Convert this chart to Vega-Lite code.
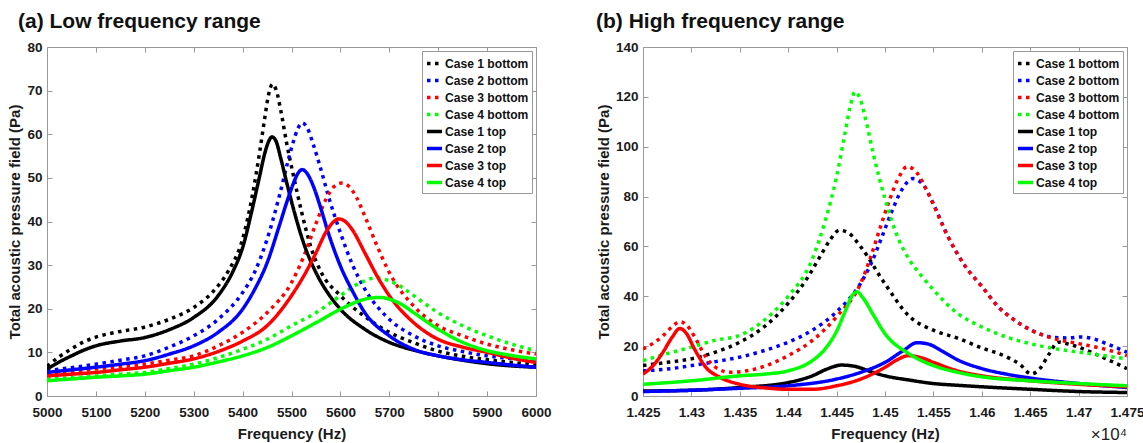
{
"$schema": "https://vega.github.io/schema/vega-lite/v6.json",
"padding": {"left": 7, "top": 11, "right": 3, "bottom": 1},
"spacing": 44,
"resolve": {"scale": {"color": "independent", "strokeDash": "independent"}, "legend": {"color": "independent", "strokeDash": "independent"}},
"config": {
  "font": "Liberation Sans",
  "view": {"stroke": null},
  "axis": {"grid": false, "domainColor": "#999", "tickColor": "#999", "tickSize": -5, "labelFontSize": 13.5, "labelFontWeight": "bold", "labelColor": "#1a1a1a", "titleFontSize": 15, "titleFontWeight": "bold", "titleColor": "#1a1a1a", "labelFlush": false, "labelOverlap": false},
  "axisX": {"labelPadding": 14, "titlePadding": 8},
  "axisY": {"labelPadding": 10, "titlePadding": 4},
  "title": {"fontSize": 21, "fontWeight": "bold", "color": "#111", "anchor": "start", "offset": 8},
  "legend": {"orient": "top-right", "offset": 4, "fillColor": "#ffffff", "strokeColor": "#999", "padding": 3, "labelFontSize": 12.1, "labelFontWeight": "bold", "labelColor": "#111", "symbolType": "stroke", "symbolSize": 225, "symbolStrokeWidth": 3.5, "rowPadding": 0, "labelOffset": 1}
},
"datasets": {
 "low": [
{"s":"Case 1 bottom","f":5000,"v":6.8},{"s":"Case 1 bottom","f":5025,"v":9},{"s":"Case 1 bottom","f":5050,"v":10.8},{"s":"Case 1 bottom","f":5075,"v":12.4},{"s":"Case 1 bottom","f":5100,"v":13.5},{"s":"Case 1 bottom","f":5150,"v":14.8},{"s":"Case 1 bottom","f":5200,"v":15.8},{"s":"Case 1 bottom","f":5250,"v":17.6},{"s":"Case 1 bottom","f":5300,"v":20.3},{"s":"Case 1 bottom","f":5340,"v":24},{"s":"Case 1 bottom","f":5370,"v":28.5},{"s":"Case 1 bottom","f":5400,"v":36},{"s":"Case 1 bottom","f":5420,"v":46},{"s":"Case 1 bottom","f":5435,"v":56},{"s":"Case 1 bottom","f":5445,"v":63.5},{"s":"Case 1 bottom","f":5453,"v":69},{"s":"Case 1 bottom","f":5461,"v":71.5},{"s":"Case 1 bottom","f":5469,"v":70},{"s":"Case 1 bottom","f":5478,"v":65.5},{"s":"Case 1 bottom","f":5490,"v":58},{"s":"Case 1 bottom","f":5505,"v":50},{"s":"Case 1 bottom","f":5520,"v":42.5},{"s":"Case 1 bottom","f":5540,"v":34},{"s":"Case 1 bottom","f":5560,"v":28.5},{"s":"Case 1 bottom","f":5600,"v":23},{"s":"Case 1 bottom","f":5650,"v":18.2},{"s":"Case 1 bottom","f":5700,"v":14.6},{"s":"Case 1 bottom","f":5750,"v":12.2},{"s":"Case 1 bottom","f":5800,"v":10.3},{"s":"Case 1 bottom","f":5850,"v":9.1},{"s":"Case 1 bottom","f":5900,"v":8.3},{"s":"Case 1 bottom","f":5950,"v":7.7},{"s":"Case 1 bottom","f":6000,"v":7.2},
{"s":"Case 2 bottom","f":5000,"v":5.8},{"s":"Case 2 bottom","f":5050,"v":6.5},{"s":"Case 2 bottom","f":5100,"v":7.3},{"s":"Case 2 bottom","f":5150,"v":8.2},{"s":"Case 2 bottom","f":5200,"v":9.2},{"s":"Case 2 bottom","f":5250,"v":11.2},{"s":"Case 2 bottom","f":5300,"v":13.8},{"s":"Case 2 bottom","f":5350,"v":17.6},{"s":"Case 2 bottom","f":5400,"v":23.7},{"s":"Case 2 bottom","f":5425,"v":28.5},{"s":"Case 2 bottom","f":5450,"v":35.9},{"s":"Case 2 bottom","f":5475,"v":45.8},{"s":"Case 2 bottom","f":5492,"v":53.5},{"s":"Case 2 bottom","f":5503,"v":58},{"s":"Case 2 bottom","f":5513,"v":61.3},{"s":"Case 2 bottom","f":5522,"v":62.6},{"s":"Case 2 bottom","f":5532,"v":61.5},{"s":"Case 2 bottom","f":5545,"v":57.5},{"s":"Case 2 bottom","f":5560,"v":52},{"s":"Case 2 bottom","f":5575,"v":46},{"s":"Case 2 bottom","f":5600,"v":37.4},{"s":"Case 2 bottom","f":5625,"v":30},{"s":"Case 2 bottom","f":5650,"v":24.5},{"s":"Case 2 bottom","f":5700,"v":17.6},{"s":"Case 2 bottom","f":5750,"v":13.8},{"s":"Case 2 bottom","f":5800,"v":11.5},{"s":"Case 2 bottom","f":5850,"v":10.2},{"s":"Case 2 bottom","f":5900,"v":9.2},{"s":"Case 2 bottom","f":5950,"v":8.6},{"s":"Case 2 bottom","f":6000,"v":8.1},
{"s":"Case 3 bottom","f":5000,"v":5},{"s":"Case 3 bottom","f":5050,"v":5.6},{"s":"Case 3 bottom","f":5100,"v":6.2},{"s":"Case 3 bottom","f":5150,"v":6.7},{"s":"Case 3 bottom","f":5200,"v":7.3},{"s":"Case 3 bottom","f":5250,"v":8.2},{"s":"Case 3 bottom","f":5300,"v":9.2},{"s":"Case 3 bottom","f":5350,"v":11.5},{"s":"Case 3 bottom","f":5400,"v":14.6},{"s":"Case 3 bottom","f":5450,"v":19.1},{"s":"Case 3 bottom","f":5500,"v":26},{"s":"Case 3 bottom","f":5525,"v":32},{"s":"Case 3 bottom","f":5550,"v":39.5},{"s":"Case 3 bottom","f":5570,"v":45},{"s":"Case 3 bottom","f":5587,"v":48},{"s":"Case 3 bottom","f":5603,"v":48.8},{"s":"Case 3 bottom","f":5618,"v":48},{"s":"Case 3 bottom","f":5633,"v":45.5},{"s":"Case 3 bottom","f":5650,"v":41.2},{"s":"Case 3 bottom","f":5675,"v":34.4},{"s":"Case 3 bottom","f":5700,"v":28.3},{"s":"Case 3 bottom","f":5750,"v":20.6},{"s":"Case 3 bottom","f":5800,"v":16.1},{"s":"Case 3 bottom","f":5850,"v":13.8},{"s":"Case 3 bottom","f":5900,"v":11.9},{"s":"Case 3 bottom","f":5950,"v":10.6},{"s":"Case 3 bottom","f":6000,"v":9.6},
{"s":"Case 4 bottom","f":5000,"v":3.9},{"s":"Case 4 bottom","f":5050,"v":4.2},{"s":"Case 4 bottom","f":5100,"v":4.6},{"s":"Case 4 bottom","f":5150,"v":5},{"s":"Case 4 bottom","f":5200,"v":5.4},{"s":"Case 4 bottom","f":5250,"v":6.3},{"s":"Case 4 bottom","f":5300,"v":7.3},{"s":"Case 4 bottom","f":5350,"v":8.8},{"s":"Case 4 bottom","f":5400,"v":10.7},{"s":"Case 4 bottom","f":5450,"v":13},{"s":"Case 4 bottom","f":5500,"v":16.1},{"s":"Case 4 bottom","f":5550,"v":19.1},{"s":"Case 4 bottom","f":5600,"v":23},{"s":"Case 4 bottom","f":5625,"v":25},{"s":"Case 4 bottom","f":5650,"v":26.4},{"s":"Case 4 bottom","f":5672,"v":27.1},{"s":"Case 4 bottom","f":5700,"v":26.4},{"s":"Case 4 bottom","f":5725,"v":25},{"s":"Case 4 bottom","f":5750,"v":23},{"s":"Case 4 bottom","f":5800,"v":19.1},{"s":"Case 4 bottom","f":5850,"v":16.1},{"s":"Case 4 bottom","f":5900,"v":13.8},{"s":"Case 4 bottom","f":5950,"v":11.9},{"s":"Case 4 bottom","f":6000,"v":10.4},
{"s":"Case 1 top","f":5000,"v":6.2},{"s":"Case 1 top","f":5025,"v":7.8},{"s":"Case 1 top","f":5050,"v":9.2},{"s":"Case 1 top","f":5075,"v":10.5},{"s":"Case 1 top","f":5100,"v":11.5},{"s":"Case 1 top","f":5150,"v":12.6},{"s":"Case 1 top","f":5200,"v":13.4},{"s":"Case 1 top","f":5250,"v":15.2},{"s":"Case 1 top","f":5300,"v":18},{"s":"Case 1 top","f":5350,"v":23},{"s":"Case 1 top","f":5380,"v":28.5},{"s":"Case 1 top","f":5400,"v":34},{"s":"Case 1 top","f":5420,"v":43},{"s":"Case 1 top","f":5435,"v":50.5},{"s":"Case 1 top","f":5445,"v":55.5},{"s":"Case 1 top","f":5453,"v":58.3},{"s":"Case 1 top","f":5460,"v":59.4},{"s":"Case 1 top","f":5468,"v":58.5},{"s":"Case 1 top","f":5478,"v":54.5},{"s":"Case 1 top","f":5490,"v":49},{"s":"Case 1 top","f":5505,"v":42.5},{"s":"Case 1 top","f":5525,"v":35},{"s":"Case 1 top","f":5550,"v":28.3},{"s":"Case 1 top","f":5575,"v":23.5},{"s":"Case 1 top","f":5600,"v":19.9},{"s":"Case 1 top","f":5650,"v":15.3},{"s":"Case 1 top","f":5700,"v":12.3},{"s":"Case 1 top","f":5750,"v":10.5},{"s":"Case 1 top","f":5800,"v":9.2},{"s":"Case 1 top","f":5850,"v":8.2},{"s":"Case 1 top","f":5900,"v":7.4},{"s":"Case 1 top","f":5950,"v":6.9},{"s":"Case 1 top","f":6000,"v":6.6},
{"s":"Case 2 top","f":5000,"v":5.4},{"s":"Case 2 top","f":5050,"v":6},{"s":"Case 2 top","f":5100,"v":6.6},{"s":"Case 2 top","f":5150,"v":7.3},{"s":"Case 2 top","f":5200,"v":8.1},{"s":"Case 2 top","f":5250,"v":9.6},{"s":"Case 2 top","f":5300,"v":11.5},{"s":"Case 2 top","f":5350,"v":14.6},{"s":"Case 2 top","f":5400,"v":19.9},{"s":"Case 2 top","f":5425,"v":24.5},{"s":"Case 2 top","f":5450,"v":30.5},{"s":"Case 2 top","f":5475,"v":39},{"s":"Case 2 top","f":5492,"v":45},{"s":"Case 2 top","f":5503,"v":48.5},{"s":"Case 2 top","f":5513,"v":51},{"s":"Case 2 top","f":5522,"v":51.9},{"s":"Case 2 top","f":5532,"v":51},{"s":"Case 2 top","f":5545,"v":48},{"s":"Case 2 top","f":5560,"v":43},{"s":"Case 2 top","f":5575,"v":37.5},{"s":"Case 2 top","f":5600,"v":29.8},{"s":"Case 2 top","f":5625,"v":24},{"s":"Case 2 top","f":5650,"v":19.1},{"s":"Case 2 top","f":5700,"v":13.8},{"s":"Case 2 top","f":5750,"v":10.7},{"s":"Case 2 top","f":5800,"v":9.2},{"s":"Case 2 top","f":5850,"v":8.3},{"s":"Case 2 top","f":5900,"v":7.7},{"s":"Case 2 top","f":5950,"v":7.1},{"s":"Case 2 top","f":6000,"v":6.6},
{"s":"Case 3 top","f":5000,"v":4.6},{"s":"Case 3 top","f":5050,"v":5},{"s":"Case 3 top","f":5100,"v":5.4},{"s":"Case 3 top","f":5150,"v":6},{"s":"Case 3 top","f":5200,"v":6.6},{"s":"Case 3 top","f":5250,"v":7.5},{"s":"Case 3 top","f":5300,"v":8.5},{"s":"Case 3 top","f":5350,"v":10.2},{"s":"Case 3 top","f":5400,"v":12.6},{"s":"Case 3 top","f":5450,"v":16.1},{"s":"Case 3 top","f":5500,"v":23},{"s":"Case 3 top","f":5525,"v":27.5},{"s":"Case 3 top","f":5550,"v":32.8},{"s":"Case 3 top","f":5570,"v":37.5},{"s":"Case 3 top","f":5585,"v":39.8},{"s":"Case 3 top","f":5597,"v":40.6},{"s":"Case 3 top","f":5610,"v":40},{"s":"Case 3 top","f":5625,"v":38},{"s":"Case 3 top","f":5650,"v":32.8},{"s":"Case 3 top","f":5675,"v":27.5},{"s":"Case 3 top","f":5700,"v":23},{"s":"Case 3 top","f":5750,"v":16.8},{"s":"Case 3 top","f":5800,"v":13},{"s":"Case 3 top","f":5850,"v":11.2},{"s":"Case 3 top","f":5900,"v":10},{"s":"Case 3 top","f":5950,"v":8.7},{"s":"Case 3 top","f":6000,"v":7.7},
{"s":"Case 4 top","f":5000,"v":3.5},{"s":"Case 4 top","f":5050,"v":3.9},{"s":"Case 4 top","f":5100,"v":4.3},{"s":"Case 4 top","f":5150,"v":4.6},{"s":"Case 4 top","f":5200,"v":5},{"s":"Case 4 top","f":5250,"v":5.8},{"s":"Case 4 top","f":5300,"v":6.6},{"s":"Case 4 top","f":5350,"v":7.8},{"s":"Case 4 top","f":5400,"v":9.2},{"s":"Case 4 top","f":5450,"v":11.1},{"s":"Case 4 top","f":5500,"v":13.8},{"s":"Case 4 top","f":5550,"v":16.8},{"s":"Case 4 top","f":5600,"v":19.9},{"s":"Case 4 top","f":5625,"v":21.2},{"s":"Case 4 top","f":5650,"v":22.2},{"s":"Case 4 top","f":5680,"v":22.6},{"s":"Case 4 top","f":5700,"v":22.2},{"s":"Case 4 top","f":5725,"v":21},{"s":"Case 4 top","f":5750,"v":19.1},{"s":"Case 4 top","f":5800,"v":15.3},{"s":"Case 4 top","f":5850,"v":12.3},{"s":"Case 4 top","f":5900,"v":10.4},{"s":"Case 4 top","f":5950,"v":9.3},{"s":"Case 4 top","f":6000,"v":8.5}
 ],
 "high": [
{"s":"Case 1 bottom","f":14250,"v":12.2},{"s":"Case 1 bottom","f":14275,"v":13.5},{"s":"Case 1 bottom","f":14300,"v":14.9},{"s":"Case 1 bottom","f":14325,"v":17.6},{"s":"Case 1 bottom","f":14350,"v":21.6},{"s":"Case 1 bottom","f":14375,"v":27.7},{"s":"Case 1 bottom","f":14400,"v":37.2},{"s":"Case 1 bottom","f":14420,"v":47.5},{"s":"Case 1 bottom","f":14433,"v":56},{"s":"Case 1 bottom","f":14443,"v":62.5},{"s":"Case 1 bottom","f":14453,"v":66.5},{"s":"Case 1 bottom","f":14462,"v":65.5},{"s":"Case 1 bottom","f":14475,"v":59.8},{"s":"Case 1 bottom","f":14500,"v":45},{"s":"Case 1 bottom","f":14525,"v":32},{"s":"Case 1 bottom","f":14550,"v":26.4},{"s":"Case 1 bottom","f":14575,"v":23.2},{"s":"Case 1 bottom","f":14600,"v":19.3},{"s":"Case 1 bottom","f":14625,"v":15.8},{"s":"Case 1 bottom","f":14640,"v":12.5},{"s":"Case 1 bottom","f":14651,"v":8.8},{"s":"Case 1 bottom","f":14660,"v":11},{"s":"Case 1 bottom","f":14669,"v":16.5},{"s":"Case 1 bottom","f":14679,"v":21.6},{"s":"Case 1 bottom","f":14690,"v":20.8},{"s":"Case 1 bottom","f":14700,"v":19.6},{"s":"Case 1 bottom","f":14725,"v":15.5},{"s":"Case 1 bottom","f":14750,"v":11},
{"s":"Case 2 bottom","f":14250,"v":10.1},{"s":"Case 2 bottom","f":14275,"v":10.8},{"s":"Case 2 bottom","f":14300,"v":12.2},{"s":"Case 2 bottom","f":14325,"v":13.8},{"s":"Case 2 bottom","f":14350,"v":15.6},{"s":"Case 2 bottom","f":14376,"v":18.3},{"s":"Case 2 bottom","f":14400,"v":21.6},{"s":"Case 2 bottom","f":14425,"v":26.4},{"s":"Case 2 bottom","f":14450,"v":33.8},{"s":"Case 2 bottom","f":14475,"v":45.3},{"s":"Case 2 bottom","f":14486,"v":53.4},{"s":"Case 2 bottom","f":14497,"v":64},{"s":"Case 2 bottom","f":14507,"v":74},{"s":"Case 2 bottom","f":14517,"v":82.5},{"s":"Case 2 bottom","f":14529,"v":87.2},{"s":"Case 2 bottom","f":14540,"v":84.5},{"s":"Case 2 bottom","f":14550,"v":77},{"s":"Case 2 bottom","f":14565,"v":64},{"s":"Case 2 bottom","f":14583,"v":52},{"s":"Case 2 bottom","f":14600,"v":44},{"s":"Case 2 bottom","f":14617,"v":35.8},{"s":"Case 2 bottom","f":14634,"v":30.4},{"s":"Case 2 bottom","f":14651,"v":26.4},{"s":"Case 2 bottom","f":14675,"v":23.5},{"s":"Case 2 bottom","f":14690,"v":23.3},{"s":"Case 2 bottom","f":14702,"v":23.7},{"s":"Case 2 bottom","f":14714,"v":23.1},{"s":"Case 2 bottom","f":14730,"v":20.8},{"s":"Case 2 bottom","f":14750,"v":17.6},
{"s":"Case 3 bottom","f":14250,"v":18.9},{"s":"Case 3 bottom","f":14260,"v":21},{"s":"Case 3 bottom","f":14270,"v":23.9},{"s":"Case 3 bottom","f":14280,"v":27.8},{"s":"Case 3 bottom","f":14288,"v":29.8},{"s":"Case 3 bottom","f":14295,"v":28.5},{"s":"Case 3 bottom","f":14303,"v":24},{"s":"Case 3 bottom","f":14315,"v":15.6},{"s":"Case 3 bottom","f":14325,"v":11.5},{"s":"Case 3 bottom","f":14340,"v":9.5},{"s":"Case 3 bottom","f":14360,"v":10.3},{"s":"Case 3 bottom","f":14376,"v":12},{"s":"Case 3 bottom","f":14400,"v":16.2},{"s":"Case 3 bottom","f":14425,"v":22.3},{"s":"Case 3 bottom","f":14450,"v":31.8},{"s":"Case 3 bottom","f":14475,"v":45.3},{"s":"Case 3 bottom","f":14485,"v":55.5},{"s":"Case 3 bottom","f":14495,"v":67.5},{"s":"Case 3 bottom","f":14505,"v":79},{"s":"Case 3 bottom","f":14514,"v":87.5},{"s":"Case 3 bottom","f":14523,"v":92},{"s":"Case 3 bottom","f":14533,"v":89.5},{"s":"Case 3 bottom","f":14545,"v":81},{"s":"Case 3 bottom","f":14565,"v":64},{"s":"Case 3 bottom","f":14583,"v":52},{"s":"Case 3 bottom","f":14600,"v":44},{"s":"Case 3 bottom","f":14617,"v":35.8},{"s":"Case 3 bottom","f":14634,"v":30.4},{"s":"Case 3 bottom","f":14651,"v":26.4},{"s":"Case 3 bottom","f":14675,"v":23},{"s":"Case 3 bottom","f":14700,"v":21},{"s":"Case 3 bottom","f":14725,"v":19},{"s":"Case 3 bottom","f":14750,"v":16.2},
{"s":"Case 4 bottom","f":14250,"v":14.2},{"s":"Case 4 bottom","f":14275,"v":17},{"s":"Case 4 bottom","f":14300,"v":19.6},{"s":"Case 4 bottom","f":14324,"v":22.3},{"s":"Case 4 bottom","f":14350,"v":24.3},{"s":"Case 4 bottom","f":14366,"v":27.7},{"s":"Case 4 bottom","f":14383,"v":33},{"s":"Case 4 bottom","f":14400,"v":40},{"s":"Case 4 bottom","f":14425,"v":55},{"s":"Case 4 bottom","f":14438,"v":70},{"s":"Case 4 bottom","f":14450,"v":88},{"s":"Case 4 bottom","f":14458,"v":104},{"s":"Case 4 bottom","f":14464,"v":116},{"s":"Case 4 bottom","f":14469,"v":122},{"s":"Case 4 bottom","f":14474,"v":119.5},{"s":"Case 4 bottom","f":14480,"v":111},{"s":"Case 4 bottom","f":14488,"v":97},{"s":"Case 4 bottom","f":14500,"v":79.1},{"s":"Case 4 bottom","f":14514,"v":62.9},{"s":"Case 4 bottom","f":14525,"v":54.8},{"s":"Case 4 bottom","f":14538,"v":48},{"s":"Case 4 bottom","f":14550,"v":42.6},{"s":"Case 4 bottom","f":14575,"v":33.1},{"s":"Case 4 bottom","f":14600,"v":27.7},{"s":"Case 4 bottom","f":14625,"v":23.7},{"s":"Case 4 bottom","f":14650,"v":21},{"s":"Case 4 bottom","f":14675,"v":19},{"s":"Case 4 bottom","f":14700,"v":17.6},{"s":"Case 4 bottom","f":14750,"v":14.9},
{"s":"Case 1 top","f":14250,"v":2},{"s":"Case 1 top","f":14300,"v":2.3},{"s":"Case 1 top","f":14350,"v":3.4},{"s":"Case 1 top","f":14400,"v":5.4},{"s":"Case 1 top","f":14425,"v":8.1},{"s":"Case 1 top","f":14440,"v":10.8},{"s":"Case 1 top","f":14455,"v":12.4},{"s":"Case 1 top","f":14470,"v":11.8},{"s":"Case 1 top","f":14485,"v":9.8},{"s":"Case 1 top","f":14500,"v":8.1},{"s":"Case 1 top","f":14525,"v":6.4},{"s":"Case 1 top","f":14550,"v":5},{"s":"Case 1 top","f":14575,"v":4.3},{"s":"Case 1 top","f":14600,"v":3.7},{"s":"Case 1 top","f":14650,"v":2.7},{"s":"Case 1 top","f":14700,"v":1.8},{"s":"Case 1 top","f":14750,"v":1.4},
{"s":"Case 2 top","f":14250,"v":1.8},{"s":"Case 2 top","f":14300,"v":2.3},{"s":"Case 2 top","f":14350,"v":3.1},{"s":"Case 2 top","f":14400,"v":4.1},{"s":"Case 2 top","f":14450,"v":6.8},{"s":"Case 2 top","f":14475,"v":9.5},{"s":"Case 2 top","f":14500,"v":13.5},{"s":"Case 2 top","f":14520,"v":18.5},{"s":"Case 2 top","f":14533,"v":21.4},{"s":"Case 2 top","f":14545,"v":20.8},{"s":"Case 2 top","f":14560,"v":17.8},{"s":"Case 2 top","f":14575,"v":14.5},{"s":"Case 2 top","f":14600,"v":11},{"s":"Case 2 top","f":14625,"v":8.8},{"s":"Case 2 top","f":14650,"v":7.2},{"s":"Case 2 top","f":14700,"v":5},{"s":"Case 2 top","f":14750,"v":3.4},
{"s":"Case 3 top","f":14250,"v":8.8},{"s":"Case 3 top","f":14260,"v":12},{"s":"Case 3 top","f":14270,"v":17.2},{"s":"Case 3 top","f":14280,"v":23.5},{"s":"Case 3 top","f":14288,"v":27.1},{"s":"Case 3 top","f":14295,"v":25},{"s":"Case 3 top","f":14303,"v":19},{"s":"Case 3 top","f":14315,"v":11.5},{"s":"Case 3 top","f":14330,"v":7.4},{"s":"Case 3 top","f":14350,"v":4.7},{"s":"Case 3 top","f":14375,"v":3.3},{"s":"Case 3 top","f":14400,"v":2.7},{"s":"Case 3 top","f":14425,"v":2.7},{"s":"Case 3 top","f":14450,"v":4.1},{"s":"Case 3 top","f":14475,"v":6.8},{"s":"Case 3 top","f":14500,"v":11.5},{"s":"Case 3 top","f":14513,"v":14.6},{"s":"Case 3 top","f":14524,"v":16.2},{"s":"Case 3 top","f":14538,"v":15.3},{"s":"Case 3 top","f":14550,"v":13.5},{"s":"Case 3 top","f":14575,"v":10.1},{"s":"Case 3 top","f":14600,"v":8.1},{"s":"Case 3 top","f":14650,"v":6.1},{"s":"Case 3 top","f":14700,"v":4.7},{"s":"Case 3 top","f":14750,"v":3.7},
{"s":"Case 4 top","f":14250,"v":4.7},{"s":"Case 4 top","f":14300,"v":6.1},{"s":"Case 4 top","f":14350,"v":8.1},{"s":"Case 4 top","f":14376,"v":8.8},{"s":"Case 4 top","f":14400,"v":10.1},{"s":"Case 4 top","f":14425,"v":14.2},{"s":"Case 4 top","f":14438,"v":18.8},{"s":"Case 4 top","f":14450,"v":26},{"s":"Case 4 top","f":14460,"v":35},{"s":"Case 4 top","f":14466,"v":40.2},{"s":"Case 4 top","f":14471,"v":41.8},{"s":"Case 4 top","f":14477,"v":39.5},{"s":"Case 4 top","f":14488,"v":32.5},{"s":"Case 4 top","f":14500,"v":25},{"s":"Case 4 top","f":14525,"v":16.9},{"s":"Case 4 top","f":14550,"v":12.2},{"s":"Case 4 top","f":14575,"v":9.5},{"s":"Case 4 top","f":14600,"v":7.7},{"s":"Case 4 top","f":14650,"v":6.1},{"s":"Case 4 top","f":14700,"v":5},{"s":"Case 4 top","f":14750,"v":4.1}
 ]
},
"hconcat": [
 {
  "width": 489, "height": 349,
  "data": {"name": "low"},
  "title": {"text": "(a) Low frequency range", "frame": "group", "dx": -29},
  "layer": [
   {
    "mark": {"type": "line", "strokeWidth": 3.5, "interpolate": "monotone", "clip": true},
    "encoding": {
     "x": {"field": "f", "type": "quantitative", "scale": {"domain": [5000, 6000], "nice": false}, "axis": {"title": "Frequency (Hz)", "values": [5000,5100,5200,5300,5400,5500,5600,5700,5800,5900,6000], "format": "d"}},
     "y": {"field": "v", "type": "quantitative", "scale": {"domain": [0, 80], "nice": false}, "axis": {"title": "Total acoustic pressure field (Pa)", "values": [0,10,20,30,40,50,60,70,80]}},
     "color": {"field": "s", "type": "nominal", "title": null, "legend": {"rowPadding": 0}, "scale": {"domain": ["Case 1 bottom","Case 2 bottom","Case 3 bottom","Case 4 bottom","Case 1 top","Case 2 top","Case 3 top","Case 4 top"], "range": ["#000000","#0000ff","#ff0000","#00ff00","#000000","#0000ff","#ff0000","#00ff00"]}},
     "strokeDash": {"field": "s", "type": "nominal", "title": null, "legend": {"rowPadding": 0}, "scale": {"domain": ["Case 1 bottom","Case 2 bottom","Case 3 bottom","Case 4 bottom","Case 1 top","Case 2 top","Case 3 top","Case 4 top"], "range": [[3.5,4.5],[3.5,4.5],[3.5,4.5],[3.5,4.5],[1,0],[1,0],[1,0],[1,0]]}}
    }
   },
   {
    "mark": {"type": "line", "strokeOpacity": 0},
    "encoding": {
     "x": {"field": "f", "type": "quantitative", "axis": {"orient": "top", "labels": false, "title": null, "values": [5000,5100,5200,5300,5400,5500,5600,5700,5800,5900,6000]}},
     "y": {"field": "v", "type": "quantitative", "axis": {"orient": "right", "labels": false, "title": null, "values": [0,10,20,30,40,50,60,70,80]}}
    }
   }
  ],
  "resolve": {"axis": {"x": "independent", "y": "independent"}}
 },
 {
  "width": 484, "height": 349,
  "data": {"name": "high"},
  "title": {"text": "(b) High frequency range", "frame": "group", "dx": -47},
  "layer": [
   {
    "mark": {"type": "line", "strokeWidth": 3.5, "interpolate": "monotone", "clip": true},
    "encoding": {
     "x": {"field": "f", "type": "quantitative", "scale": {"domain": [14250, 14750], "nice": false}, "axis": {"title": "Frequency (Hz)", "values": [14250,14300,14350,14400,14450,14500,14550,14600,14650,14700,14750], "labelExpr": "format(datum.value/10000, '.4~f')"}},
     "y": {"field": "v", "type": "quantitative", "scale": {"domain": [0, 140], "nice": false}, "axis": {"title": "Total acoustic pressure field (Pa)", "values": [0,20,40,60,80,100,120,140]}},
     "color": {"field": "s", "type": "nominal", "title": null, "legend": {"rowPadding": 0}, "scale": {"domain": ["Case 1 bottom","Case 2 bottom","Case 3 bottom","Case 4 bottom","Case 1 top","Case 2 top","Case 3 top","Case 4 top"], "range": ["#000000","#0000ff","#ff0000","#00ff00","#000000","#0000ff","#ff0000","#00ff00"]}},
     "strokeDash": {"field": "s", "type": "nominal", "title": null, "legend": {"rowPadding": 0}, "scale": {"domain": ["Case 1 bottom","Case 2 bottom","Case 3 bottom","Case 4 bottom","Case 1 top","Case 2 top","Case 3 top","Case 4 top"], "range": [[3.5,4.5],[3.5,4.5],[3.5,4.5],[3.5,4.5],[1,0],[1,0],[1,0],[1,0]]}}
    }
   },
   {
    "mark": {"type": "line", "strokeOpacity": 0},
    "encoding": {
     "x": {"field": "f", "type": "quantitative", "axis": {"orient": "top", "labels": false, "title": null, "values": [14250,14300,14350,14400,14450,14500,14550,14600,14650,14700,14750]}},
     "y": {"field": "v", "type": "quantitative", "axis": {"orient": "right", "labels": false, "title": null, "values": [0,20,40,60,80,100,120,140]}}
    }
   },
   {
    "data": {"values": [{"label": "×10⁴"}]},
    "mark": {"type": "text", "align": "right", "baseline": "middle", "dy": 39, "fontSize": 17, "color": "#222"},
    "encoding": {
     "x": {"datum": 14750, "type": "quantitative", "axis": null},
     "y": {"datum": 0, "type": "quantitative", "axis": null},
     "text": {"field": "label"}
    }
   }
  ],
  "resolve": {"axis": {"x": "independent", "y": "independent"}}
 }
]
}
